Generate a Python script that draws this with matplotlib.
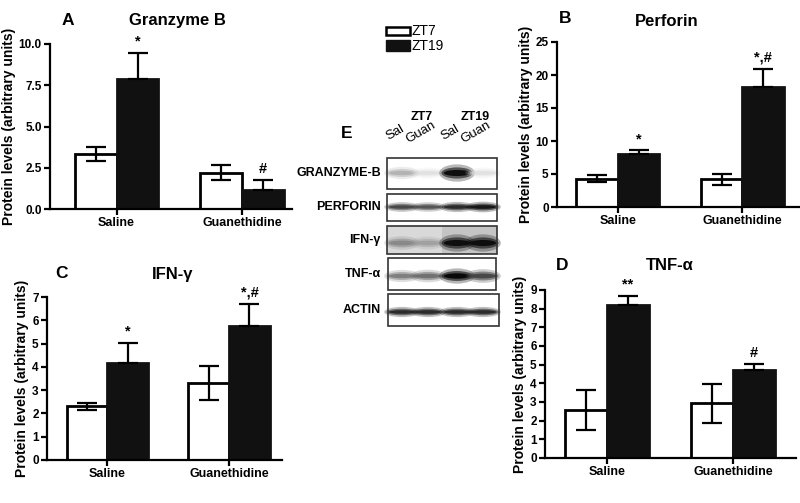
import matplotlib
matplotlib.use("Agg")
import matplotlib.pyplot as plt
from matplotlib.patches import Rectangle, Ellipse
import numpy as np

plt.rcParams['font.family'] = ['Liberation Sans', 'DejaVu Sans']

W, H = 800, 503

# ---------------- data ----------------
groups = ["Saline", "Guanethidine"]

granz_zt7 = [3.35, 2.2]
granz_zt7_err = [0.42, 0.45]
granz_zt19 = [7.85, 1.15]
granz_zt19_err = [1.6, 0.6]
granz_marks = ["*", "#"]

perf_zt7 = [4.3, 4.2]
perf_zt7_err = [0.5, 0.8]
perf_zt19 = [8.1, 18.2]
perf_zt19_err = [0.5, 2.7]
perf_marks = ["*", "*,#"]

ifn_zt7 = [2.3, 3.3]
ifn_zt7_err = [0.15, 0.72]
ifn_zt19 = [4.15, 5.75]
ifn_zt19_err = [0.87, 0.95]
ifn_marks = ["*", "*,#"]

tnf_zt7 = [2.55, 2.92]
tnf_zt7_err = [1.07, 1.07]
tnf_zt19 = [8.2, 4.72]
tnf_zt19_err = [0.5, 0.33]
tnf_marks = ["**", "#"]

# western blot (panel E): band darkness per lane (ZT7 Sal, ZT7 Guan, ZT19 Sal, ZT19 Guan)
blot_rows = ["GRANZYME-B", "PERFORIN", "IFN-γ", "TNF-α", "ACTIN"]
blot_lanes = ["Sal", "Guan", "Sal", "Guan"]
blot_groups = ["ZT7", "ZT19"]
band_granz = [0.35, 0.15, 0.95, 0.15]
band_perf = [0.75, 0.7, 0.85, 0.92]
band_ifn = [0.5, 0.4, 0.95, 0.95]
band_tnf = [0.55, 0.6, 0.97, 0.75]
band_actin = [0.85, 0.85, 0.85, 0.85]

legend_labels = ["ZT7", "ZT19"]


def rect(l, t, r, b):
    return [l / W, 1 - b / H, (r - l) / W, (b - t) / H]


fig = plt.figure(figsize=(8, 5.03), dpi=100)


def panel(box, xlim, ymax, yticks, ytl, zt7, e7, zt19, e19, marks):
    ax = fig.add_axes(rect(*box))
    x = np.arange(len(groups)) * 3.0
    ax.bar(x - 0.5, zt7, width=1.0, color="white", edgecolor="black", linewidth=2, zorder=2)
    ax.bar(x + 0.5, zt19, width=1.0, color="#111111", edgecolor="#111111", linewidth=2, zorder=2)
    ax.errorbar(x - 0.5, zt7, yerr=e7, fmt="none", ecolor="black", capsize=7,
                elinewidth=1.6, capthick=1.6, zorder=3)
    ax.errorbar(x + 0.5, zt19, yerr=[np.zeros(len(e19)), e19], fmt="none", ecolor="black",
                capsize=7, elinewidth=1.6, capthick=1.6, zorder=3)
    for xi, v, e, m in zip(x + 0.5, zt19, e19, marks):
        ax.annotate(m, (xi, v + e), xytext=(0, 3), textcoords="offset points",
                    ha="center", va="bottom", fontsize=10.5, fontweight="bold")
    ax.set_xlim(*xlim)
    ax.set_ylim(0, ymax)
    ax.set_yticks(yticks)
    ax.set_yticklabels(ytl, fontsize=8.5, fontweight="bold")
    ax.set_xticks(x)
    ax.set_xticklabels(groups, fontsize=9, fontweight="bold")
    for s in ["top", "right"]:
        ax.spines[s].set_visible(False)
    for s in ["left", "bottom"]:
        ax.spines[s].set_linewidth(1.6)
    ax.tick_params(axis="both", direction="out", length=4, width=1.6, pad=2)
    ax.set_ylabel("Protein levels (arbitrary units)", fontsize=10, fontweight="bold", labelpad=2)
    ax.patch.set_alpha(0)
    return ax


panel((50, 44, 292, 209), (-1.59, 4.19), 10, [0, 2.5, 5, 7.5, 10],
      ["0.0", "2.5", "5.0", "7.5", "10.0"], granz_zt7, granz_zt7_err, granz_zt19, granz_zt19_err, granz_marks)
panel((557, 42, 800, 207), (-1.47, 4.39), 25, [0, 5, 10, 15, 20, 25],
      ["0", "5", "10", "15", "20", "25"], perf_zt7, perf_zt7_err, perf_zt19, perf_zt19_err, perf_marks)
panel((47, 297, 282, 460), (-1.48, 4.3), 7, list(range(8)),
      [str(i) for i in range(8)], ifn_zt7, ifn_zt7_err, ifn_zt19, ifn_zt19_err, ifn_marks)
panel((545, 290, 796, 458), (-1.48, 4.5), 9, list(range(10)),
      [str(i) for i in range(10)], tnf_zt7, tnf_zt7_err, tnf_zt19, tnf_zt19_err, tnf_marks)

# overlay axes in pixel coordinates for titles, legend, blot
ov = fig.add_axes([0, 0, 1, 1])
ov.set_xlim(0, W)
ov.set_ylim(H, 0)
ov.axis("off")
ov.patch.set_alpha(0)

for letter, lx, ly, title, tx, ty in [("A", 68, 20, "Granzyme B", 177, 20),
                                      ("B", 565, 18, "Perforin", 667, 21),
                                      ("C", 62, 274, "IFN-γ", 173, 274),
                                      ("D", 562, 266, "TNF-α", 670, 266)]:
    ov.text(lx, ly, letter, fontsize=12.5, fontweight="bold", ha="center", va="center")
    ov.text(tx, ty, title, fontsize=12, fontweight="bold", ha="center", va="center")

# legend
ov.add_patch(Rectangle((386, 27), 24, 8, facecolor="white", edgecolor="black", linewidth=1.8))
ov.add_patch(Rectangle((386, 40), 24, 11, facecolor="#111111", edgecolor="#111111", linewidth=1))
ov.text(412, 31, legend_labels[0], fontsize=10, ha="left", va="center")
ov.text(412, 46, legend_labels[1], fontsize=10, ha="left", va="center")

# panel E
ov.text(347, 133, "E", fontsize=12.5, fontweight="bold", ha="center", va="center")
ov.text(422, 117, blot_groups[0], fontsize=9, fontweight="bold", ha="center", va="center")
ov.text(475, 117, blot_groups[1], fontsize=9, fontweight="bold", ha="center", va="center")
lane_x = [402, 428, 457, 483]
for lx, lab in zip(lane_x, blot_lanes):
    ov.text(lx - 4, 138, lab, fontsize=9.5, rotation=30, ha="center", va="bottom",
            rotation_mode="anchor")

boxes = [(387, 158, 497, 189), (387, 194, 497, 221), (387, 226, 497, 254),
         (388, 258, 496, 290), (388, 294, 499, 326)]
band_y = [173, 207, 243, 276, 312]
band_h = [8, 5, 8, 7, 5]
bands = [band_granz, band_perf, band_ifn, band_tnf, band_actin]
for (l, t, r, b), name, by, bh, vals in zip(boxes, blot_rows, band_y, band_h, bands):
    if name.startswith("IFN"):
        ov.add_patch(Rectangle((l, t), (r - l) / 2, b - t, facecolor="#d9d9d9", edgecolor="none"))
        ov.add_patch(Rectangle((l + (r - l) / 2, t), (r - l) / 2, b - t, facecolor="#c4c4c4", edgecolor="none"))
    ov.add_patch(Rectangle((l, t), r - l, b - t, facecolor="none", edgecolor="#333333", linewidth=1.2, zorder=5))
    ov.text(381, (t + b) / 2, name, fontsize=9, fontweight="bold", ha="right", va="center")
    for lx, v in zip(lane_x, vals):
        g = 1 - v
        for sw, sh, a in [(1.15, 1.7, 0.3), (1.0, 1.1, 0.6), (0.85, 0.6, 1.0)]:
            hh = bh * sh * (0.7 + 0.6 * v)
            ov.add_patch(Ellipse((lx, by), 31 * sw, hh, facecolor=(g, g, g), edgecolor="none",
                                 alpha=a * (0.5 + 0.5 * v), zorder=3))

fig.savefig("out.png", dpi=100)
